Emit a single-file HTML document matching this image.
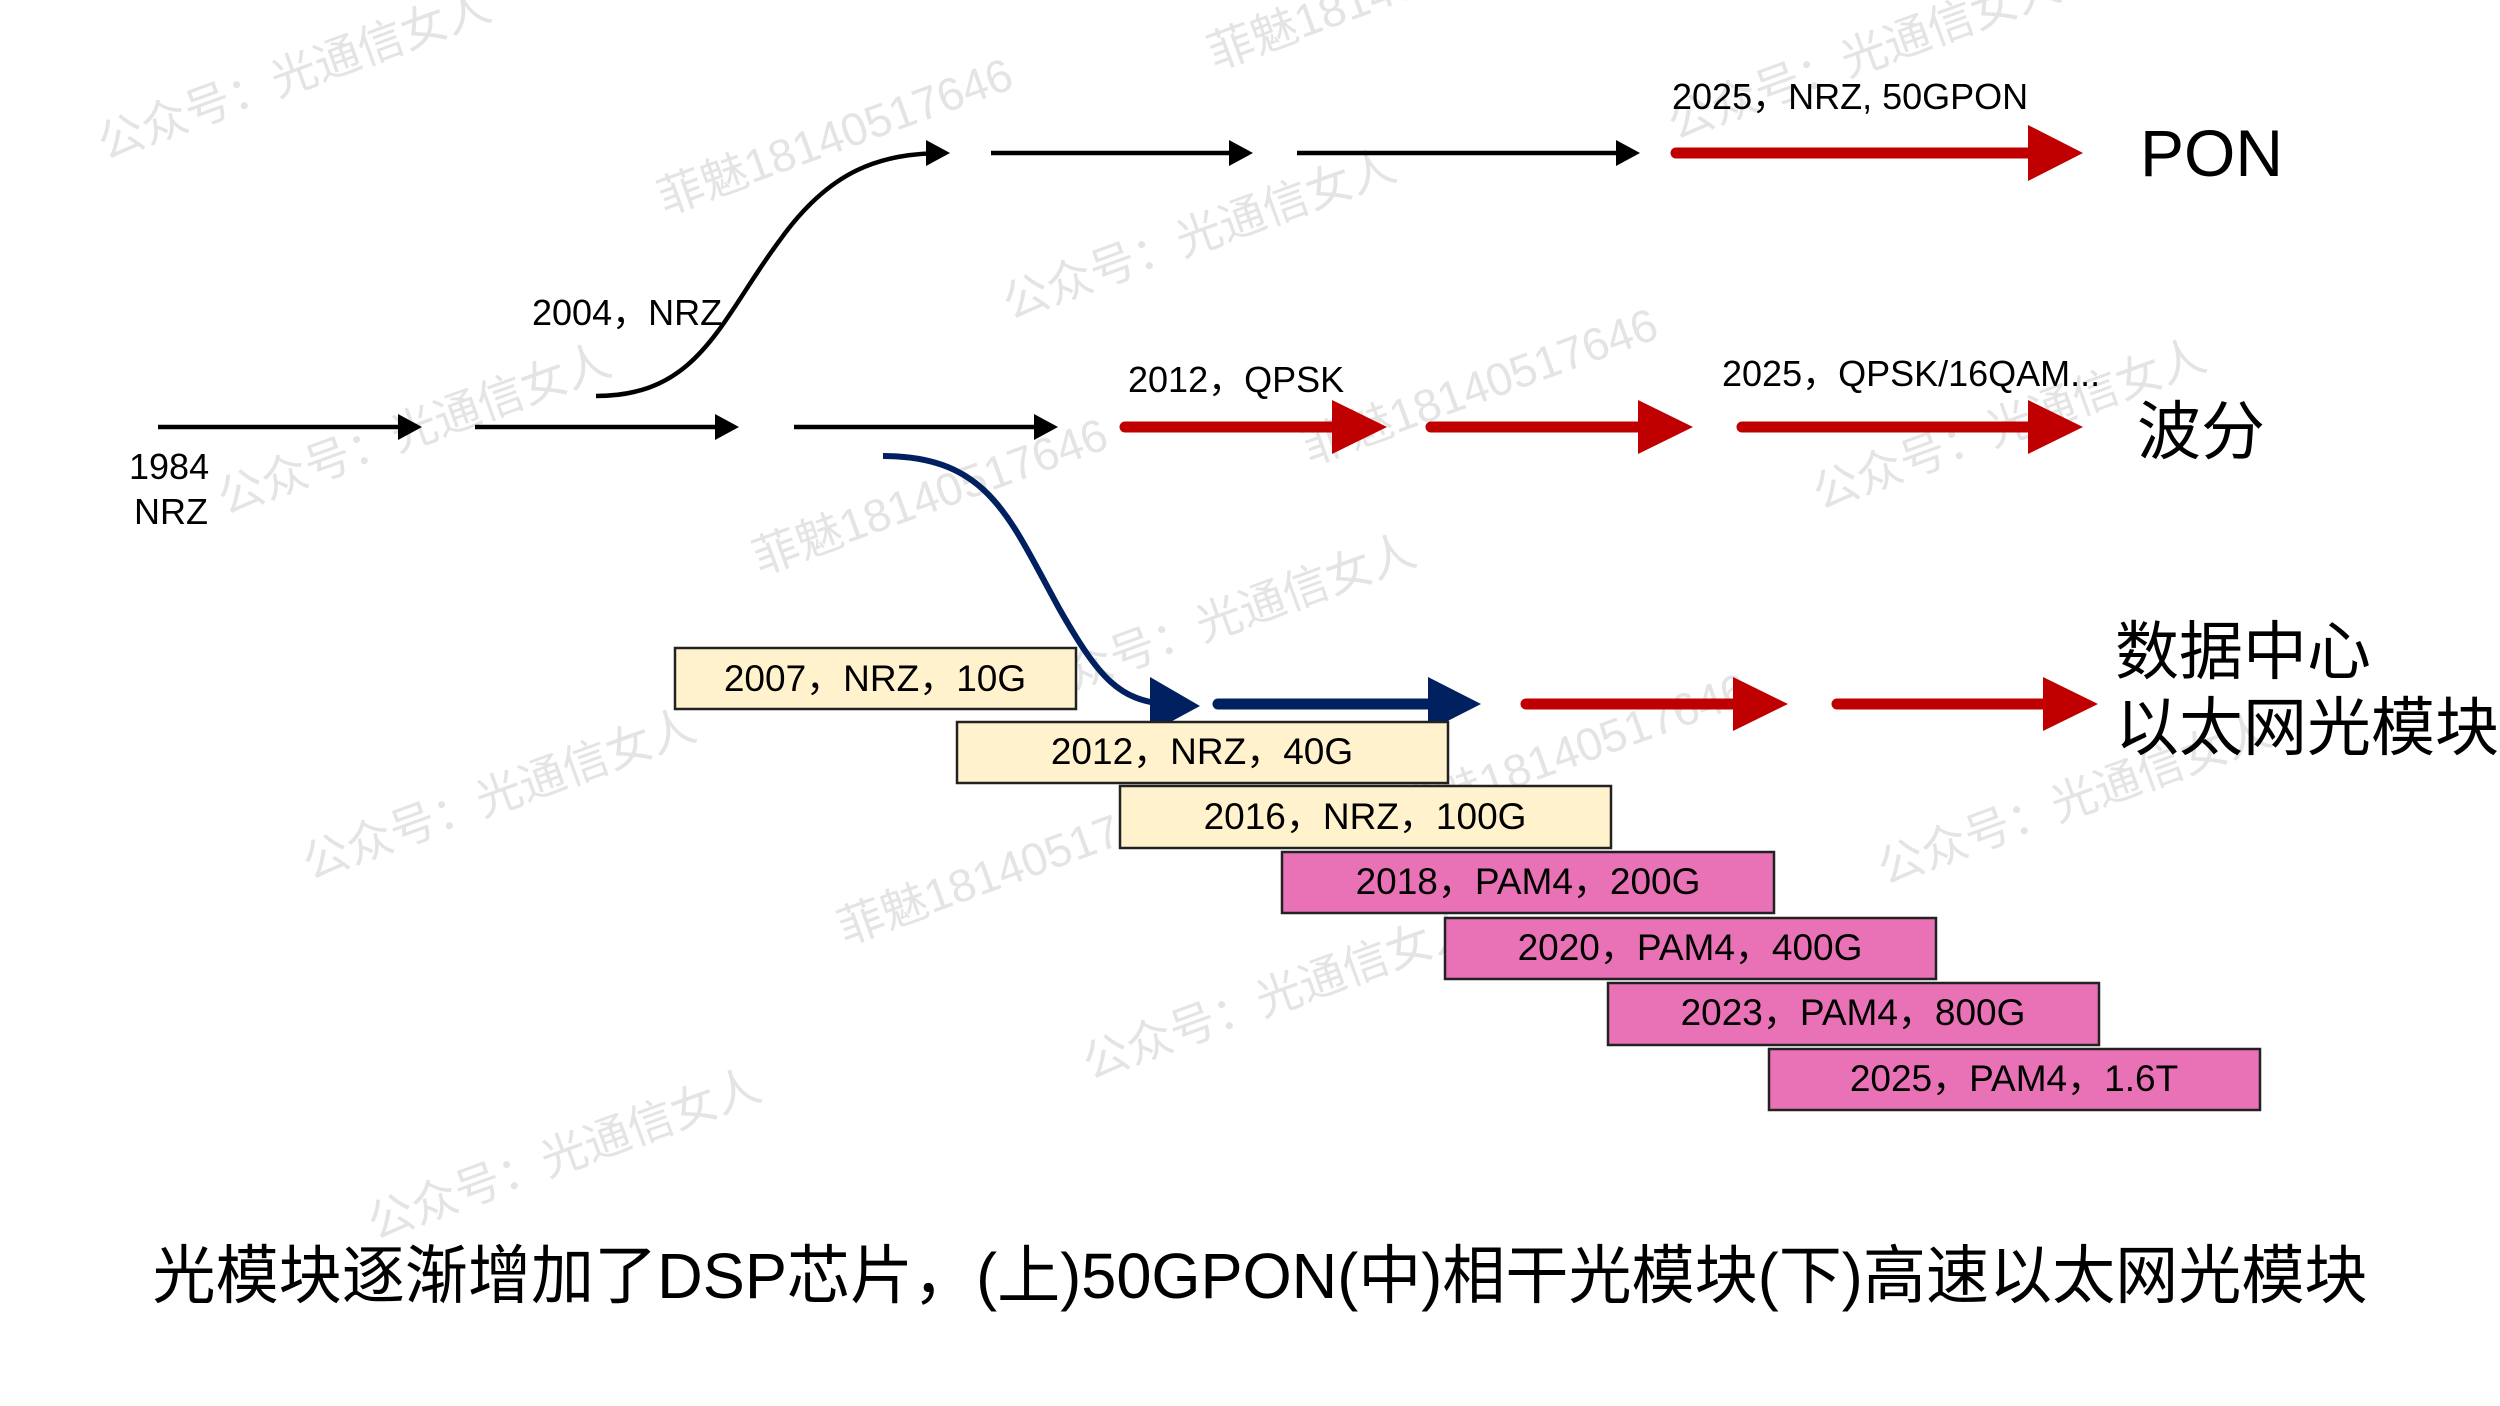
<!DOCTYPE html>
<html><head><meta charset="utf-8"><style>
html,body{margin:0;padding:0;background:#fff;}
svg{display:block;}
text{font-family:"Liberation Sans","Noto Sans CJK SC",sans-serif;}
.wm{fill:#e4e4e4;font-family:"Liberation Serif","Noto Serif CJK SC",serif;font-size:46px;}
</style></head><body>
<svg width="2500" height="1406" viewBox="0 0 2500 1406" xmlns="http://www.w3.org/2000/svg">
<defs>
<marker id="bk" markerWidth="24" markerHeight="26" refX="20" refY="13" orient="auto" markerUnits="userSpaceOnUse" viewBox="0 0 24 26"><path d="M0,0 L24,13 L0,26 Z" fill="#000"/></marker>
</defs>
<!-- watermarks -->
<g class="wm">
<text transform="translate(105,160) rotate(-20)">公众号：光通信女人</text>
<text transform="translate(665,215) rotate(-20)">菲魅18140517646</text>
<text transform="translate(1215,70) rotate(-20)">菲魅18140517646</text>
<text transform="translate(1010,320) rotate(-20)">公众号：光通信女人</text>
<text transform="translate(1675,140) rotate(-20)">公众号：光通信女人</text>
<text transform="translate(225,515) rotate(-20)">公众号：光通信女人</text>
<text transform="translate(1310,465) rotate(-20)">菲魅18140517646</text>
<text transform="translate(760,575) rotate(-20)">菲魅18140517646</text>
<text transform="translate(1820,510) rotate(-20)">公众号：光通信女人</text>
<text transform="translate(1030,705) rotate(-20)">公众号：光通信女人</text>
<text transform="translate(310,880) rotate(-20)">公众号：光通信女人</text>
<text transform="translate(1400,830) rotate(-20)">菲魅18140517646</text>
<text transform="translate(845,945) rotate(-20)">菲魅18140517646</text>
<text transform="translate(1885,885) rotate(-20)">公众号：光通信女人</text>
<text transform="translate(1090,1080) rotate(-20)">公众号：光通信女人</text>
<text transform="translate(375,1240) rotate(-20)">公众号：光通信女人</text>
</g>

<!-- black arrows -->
<g stroke="#000" stroke-width="4.5" fill="none">
<line x1="158" y1="427" x2="418" y2="427" marker-end="url(#bk)"/>
<line x1="475" y1="427" x2="735" y2="427" marker-end="url(#bk)"/>
<line x1="794" y1="427" x2="1054" y2="427" marker-end="url(#bk)"/>
<line x1="991" y1="153" x2="1249" y2="153" marker-end="url(#bk)"/>
<line x1="1297" y1="153" x2="1636" y2="153" marker-end="url(#bk)"/>
<path d="M596,396 C700,396 720,320 780,240 C830,170 880,153 946,153" marker-end="url(#bk)"/>
</g>

<!-- red arrows -->
<g fill="#C00000">
<line x1="1676" y1="153" x2="2035" y2="153" stroke="#C00000" stroke-width="11" stroke-linecap="round"/>
<path d="M2028,125 L2083,153 L2028,181 Z"/>
<line x1="1125" y1="427" x2="1340" y2="427" stroke="#C00000" stroke-width="11" stroke-linecap="round"/>
<path d="M1332,400 L1387,427 L1332,454 Z"/>
<line x1="1431" y1="427" x2="1645" y2="427" stroke="#C00000" stroke-width="11" stroke-linecap="round"/>
<path d="M1638,400 L1693,427 L1638,454 Z"/>
<line x1="1742" y1="427" x2="2035" y2="427" stroke="#C00000" stroke-width="11" stroke-linecap="round"/>
<path d="M2028,400 L2083,427 L2028,454 Z"/>
<line x1="1526" y1="704" x2="1740" y2="704" stroke="#C00000" stroke-width="11" stroke-linecap="round"/>
<path d="M1733,677 L1788,704 L1733,731 Z"/>
<line x1="1837" y1="704" x2="2050" y2="704" stroke="#C00000" stroke-width="11" stroke-linecap="round"/>
<path d="M2043,677 L2098,704 L2043,731 Z"/>
</g>

<!-- blue -->
<path d="M883,456 C990,456 1010,520 1060,610 C1100,680 1120,700 1165,704" stroke="#002060" stroke-width="6" fill="none"/>
<path d="M1150,677 L1200,706 L1150,733 Z" fill="#002060"/>
<line x1="1218" y1="704" x2="1435" y2="704" stroke="#002060" stroke-width="11" stroke-linecap="round"/>
<path d="M1428,677 L1481,704 L1428,731 Z" fill="#002060"/>

<!-- labels -->
<g font-size="36" fill="#000">
<text x="129" y="479">1984</text>
<text x="134" y="524">NRZ</text>
<text x="532" y="325">2004，NRZ</text>
<text x="1128" y="392">2012，QPSK</text>
<text x="1722" y="386">2025，QPSK/16QAM...</text>
<text x="1672" y="109">2025，NRZ, 50GPON</text>
</g>
<text x="2140" y="176" font-size="66" fill="#000">PON</text>
<text x="2137" y="454" font-size="64" fill="#000">波分</text>
<text x="2115" y="674" font-size="64" fill="#000">数据中心</text>
<text x="2115" y="750" font-size="64" fill="#000">以太网光模块</text>

<!-- boxes -->
<g stroke="#222" stroke-width="2.5" font-size="36" text-anchor="middle">
<rect x="675" y="648" width="401" height="61" fill="#FFF2CC"/>
<rect x="957" y="722" width="491" height="61" fill="#FFF2CC"/>
<rect x="1120" y="786" width="491" height="62" fill="#FFF2CC"/>
<rect x="1282" y="852" width="492" height="61" fill="#E971B5"/>
<rect x="1445" y="918" width="491" height="61" fill="#E971B5"/>
<rect x="1608" y="983" width="491" height="62" fill="#E971B5"/>
<rect x="1769" y="1049" width="491" height="61" fill="#E971B5"/>
</g>
<g font-size="37" text-anchor="middle" fill="#000">
<text x="875" y="691">2007，NRZ，10G</text>
<text x="1202" y="764">2012，NRZ，40G</text>
<text x="1365" y="829">2016，NRZ，100G</text>
<text x="1528" y="894">2018，PAM4，200G</text>
<text x="1690" y="960">2020，PAM4，400G</text>
<text x="1853" y="1025">2023，PAM4，800G</text>
<text x="2014" y="1091">2025，PAM4，1.6T</text>
</g>

<text x="1260" y="1298" font-size="64" text-anchor="middle" fill="#000" textLength="2215" lengthAdjust="spacingAndGlyphs">光模块逐渐增加了DSP芯片，(上)50GPON(中)相干光模块(下)高速以太网光模块</text>
</svg>
</body></html>
